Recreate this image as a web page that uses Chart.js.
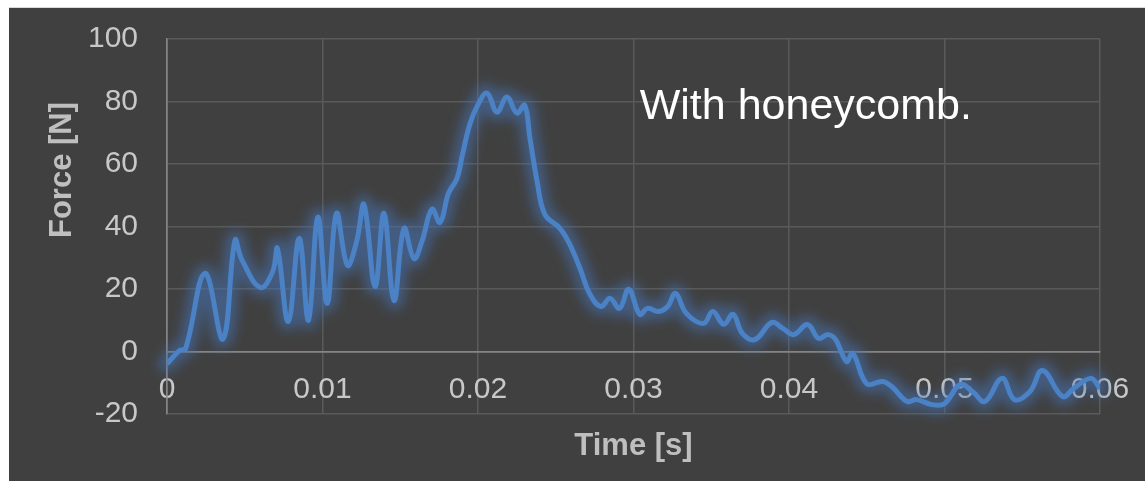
<!DOCTYPE html>
<html>
<head>
<meta charset="utf-8">
<title>Force over time – with honeycomb</title>
<script src="https://cdn.jsdelivr.net/npm/chart.js@4.4.1/dist/chart.umd.min.js"></script>
<style>
  html, body { margin: 0; padding: 0; background: #ffffff; }
  #frame {
    position: absolute; left: 9px; top: 7px;
    width: 1136px; height: 474px;
    background: #404040;
    border-top: 1px solid #d9d9d9;
    box-sizing: border-box;
  }
  canvas { display: block; }
</style>
</head>
<body>
<div id="frame"><canvas id="chart" width="1136" height="473"></canvas></div>
<script>
// Measured impact force (N) against time (s)
const timeS = [
  0, 0.0008, 0.0012, 0.00244, 0.0036, 0.00437, 0.0048, 0.0060, 0.0068, 0.0071,
  0.0078, 0.0085, 0.0091, 0.0097, 0.0103, 0.0109, 0.0116, 0.0122, 0.01267, 0.01338,
  0.01395, 0.0146, 0.01524, 0.01588, 0.0164, 0.01704, 0.01756, 0.0181, 0.01865, 0.0190,
  0.01948, 0.0200, 0.02058, 0.02122, 0.02186, 0.0225, 0.0230, 0.02334, 0.0238, 0.0243,
  0.02527, 0.0259, 0.02656, 0.0272, 0.0279, 0.0285, 0.0291, 0.0297, 0.0304, 0.0309,
  0.0316, 0.0322, 0.0327, 0.0334, 0.0345, 0.0351, 0.0358, 0.0364, 0.0370, 0.0378,
  0.0389, 0.0396, 0.0403, 0.0412, 0.0419, 0.0425, 0.0430, 0.0437, 0.0441, 0.0450,
  0.0460, 0.0466, 0.0476, 0.0482, 0.0492, 0.0500, 0.0510, 0.0518, 0.0526, 0.0537,
  0.0545, 0.0555, 0.0563, 0.0576, 0.0583, 0.0594, 0.0600
];
const forceN = [
  -4, 0.3, 1, 25, 4, 35.6, 29.5, 20.5, 25.6, 33,
  9.6, 36.2, 10, 43, 15.4, 44.2, 27.6, 35.3, 47, 20.8,
  44.2, 16.3, 39.4, 29.8, 35.3, 45.5, 41.3, 50.6, 55.4, 63,
  72.8, 79, 82.7, 76.6, 81.4, 76.3, 78.8, 68.3, 54.5, 43.9,
  39.4, 34.3, 26.6, 18.3, 14.4, 17, 13.8, 19.9, 11.9, 13.8,
  12.8, 14.4, 18.6, 12.2, 9, 12.8, 8.7, 11.9, 5.8, 3.8,
  9.3, 7.4, 5.4, 8.6, 4.2, 5.4, 3.8, -3.2, -0.6, -10.3,
  -9.6, -11.2, -16, -15.4, -17, -16.7, -10.6, -12.8, -16, -8.6,
  -15.4, -12.8, -6.1, -14.4, -11.9, -8.6, -11.8
];

const xTickLabels = ['0', '0.01', '0.02', '0.03', '0.04', '0.05', '0.06'];
const yTickLabels = ['-20', '0', '20', '40', '60', '80', '100'];

const xTitle = 'Time [s]';
const yTitle = 'Force [N]';
const noteText = 'With honeycomb.';

const FONT = '"Liberation Sans", Arial, Helvetica, sans-serif';
const gridColor = '#5a5a5a';
const axisColor = '#858585';
const tickColor = '#c8c8c8';
const titleColor = '#bfbfbf';
const lineColor = '#4b81c5';

// soft halo around the force trace: a blurred, wide, translucent stroke
// of the same path is laid down before the line itself is drawn
const glowPlugin = {
  id: 'lineGlow',
  beforeDatasetDraw(chart, args) {
    const ctx = chart.ctx;
    const pts = args.meta.data;
    const a = chart.chartArea;
    ctx.save();
    ctx.beginPath();
    ctx.rect(a.left - 20, a.top - 20, a.right - a.left + 40, a.bottom - a.top + 40);
    ctx.clip();
    ctx.filter = 'blur(6px)';
    ctx.strokeStyle = 'rgba(70, 115, 180, 0.55)';
    ctx.lineWidth = 18;
    ctx.lineJoin = 'round';
    ctx.lineCap = 'round';
    ctx.beginPath();
    pts.forEach((p, i) => {
      if (i === 0) { ctx.moveTo(p.x, p.y); return; }
      const prev = pts[i - 1];
      ctx.bezierCurveTo(prev.cp2x, prev.cp2y, p.cp1x, p.cp1y, p.x, p.y);
    });
    ctx.stroke();
    ctx.restore();
  }
};

// axis titles and the in-plot note
const textPlugin = {
  id: 'chartText',
  afterDraw(chart) {
    const { ctx, chartArea: a, scales } = chart;
    ctx.save();
    ctx.fillStyle = titleColor;
    ctx.font = 'bold 31px ' + FONT;
    ctx.textAlign = 'center';
    ctx.textBaseline = 'middle';
    ctx.fillText(xTitle, (a.left + a.right) / 2, a.bottom + 32);
    ctx.save();
    ctx.translate(a.left - 105, a.top + 131);
    ctx.rotate(-Math.PI / 2);
    ctx.fillText(yTitle, 0, 0);
    ctx.restore();

    ctx.fillStyle = '#ffffff';
    ctx.font = '43px ' + FONT;
    ctx.textAlign = 'left';
    ctx.textBaseline = 'alphabetic';
    ctx.fillText(noteText, scales.x.getPixelForValue(0.0304), scales.y.getPixelForValue(74.4));
    ctx.restore();
  }
};

const points = timeS.map((t, i) => ({ x: t, y: forceN[i] }));

new Chart(document.getElementById('chart'), {
  type: 'line',
  data: {
    datasets: [{
      label: 'Force',
      data: points,
      borderColor: lineColor,
      borderWidth: 5,
      pointRadius: 0,
      tension: 0.4,
      fill: false
    }]
  },
  options: {
    responsive: false,
    animation: false,
    devicePixelRatio: 1,
    layout: { padding: { top: 31, right: 45, bottom: 67, left: 0 } },
    plugins: {
      legend: { display: false },
      tooltip: { enabled: false }
    },
    scales: {
      x: {
        type: 'linear',
        position: { y: 0 },
        min: 0,
        max: 0.06,
        afterFit(scale) { scale.paddingLeft = 0; scale.paddingRight = 0; },
        ticks: {
          stepSize: 0.01,
          color: tickColor,
          padding: 20,
          maxRotation: 0,
          autoSkip: false,
          font: { family: FONT, size: 30, lineHeight: 1.2 },
          callback: (v, i) => xTickLabels[i]
        },
        grid: {
          drawTicks: false,
          lineWidth: 1.5,
          color: c => (c.tick && c.tick.value === 0 ? axisColor : gridColor)
        },
        border: { color: axisColor, width: 1.5 }
      },
      y: {
        min: -20,
        max: 100,
        afterFit(scale) { scale.width = 158; scale.paddingTop = 0; scale.paddingBottom = 0; },
        ticks: {
          stepSize: 20,
          color: tickColor,
          padding: 29,
          font: { family: FONT, size: 30 },
          callback: (v, i) => yTickLabels[i]
        },
        grid: {
          drawTicks: false,
          lineWidth: 1.5,
          color: c => (c.tick && c.tick.value === 0 ? axisColor : gridColor)
        },
        border: { color: axisColor, width: 1.5 }
      }
    }
  },
  plugins: [glowPlugin, textPlugin]
});
</script>
</body>
</html>
